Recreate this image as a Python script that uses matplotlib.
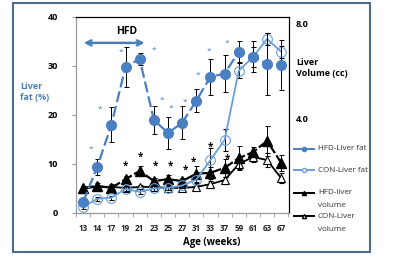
import numpy as np
import matplotlib
matplotlib.use('Agg')
import matplotlib.pyplot as plt
from matplotlib.lines import Line2D
from matplotlib.patches import Rectangle

plt.rcParams['font.family'] = ['Open Sans', 'DejaVu Sans']

# age groups (weeks)
ages = ['13', '14', '17', '19', '21', '23', '25', '27', '31', '33', '37', '59', '61', '63', '67']

# liver fat (%)
hfd_fat = [2.2, 9.4, 18.0, 29.8, 31.4, 19.0, 16.3, 18.4, 22.9, 27.8, 28.4, 32.9, 31.9, 30.4, 30.2]
hfd_fat_err = [0.5, 1.7, 3.6, 4.1, 1.3, 2.8, 3.2, 3.4, 2.4, 3.7, 3.8, 2.1, 3.1, 6.4, 5.1]
con_fat = [1.2, 2.9, 3.1, 4.9, 4.3, 5.0, 5.1, 5.6, 6.8, 10.8, 14.9, 29.0, 31.8, 35.5, 32.9]
con_fat_err = [0.4, 0.4, 0.4, 0.5, 0.5, 0.5, 0.5, 0.5, 0.6, 2.5, 2.3, 1.5, 2.0, 1.2, 1.2]

# liver volume (cc)
hfd_vol = [1.06, 1.14, 1.06, 1.43, 1.78, 1.35, 1.43, 1.35, 1.66, 1.70, 1.91, 2.32, 2.57, 3.05, 2.12]
hfd_vol_err = [0.10, 0.12, 0.17, 0.12, 0.19, 0.12, 0.17, 0.12, 0.33, 0.25, 0.37, 0.52, 0.21, 0.64, 0.33]
con_vol = [1.02, 1.12, 1.10, 1.06, 1.10, 1.10, 1.06, 1.06, 1.10, 1.22, 1.39, 2.07, 2.37, 2.24, 1.47]
con_vol_err = [0.08, 0.08, 0.08, 0.08, 0.08, 0.08, 0.08, 0.08, 0.08, 0.15, 0.15, 0.2, 0.2, 0.3, 0.2]

# significance marks (x as category index, y on fat axis)
fat_star_x = [0.56, 1.19, 2.66, 5.03, 5.59, 6.22, 7.2, 8.1, 8.9, 10.2]
fat_star_y = [13.0, 21.2, 32.7, 33.2, 22.9, 21.3, 22.6, 28.1, 32.9, 34.7]
vol_star_x = [3.0, 4.06, 5.1, 6.15, 7.2, 7.8, 9.0, 10.2]
vol_star_y = [9.6, 11.4, 9.6, 9.6, 8.8, 10.4, 13.5, 11.0]

blue = '#4a7fc1'
light = '#6a9fd8'
txt_blue = '#4a7ebb'

fig = plt.figure(figsize=(4, 2.6), dpi=100)
ax = fig.add_axes([0.19, 0.181, 0.5325, 0.754])
ax2 = ax.twinx()

x = np.arange(len(ages))

# volume on right axis
ax2.errorbar(x, con_vol, yerr=con_vol_err, color='black', lw=1.3, marker='^',
             ms=6, mfc='white', mec='black', mew=0.8, ecolor='black', elinewidth=0.7,
             capsize=1.8, capthick=0.7, zorder=3)
l = ax2.errorbar(x, hfd_vol, yerr=hfd_vol_err, color='black', lw=1.6, marker='^',
                 ms=6.5, mfc='black', mec='black', ecolor='black', elinewidth=0.7,
                 capsize=1.8, capthick=0.7, zorder=4)
l[0].set_dashes([5, 1.2])

# fat on left axis
ax.errorbar(x, con_fat, yerr=con_fat_err, color=light, lw=1.3, marker='o', ms=7,
            mfc='none', mec=light, mew=0.8, ecolor='black', elinewidth=0.7,
            capsize=1.8, capthick=0.7, zorder=3)
h = ax.errorbar(x, hfd_fat, yerr=hfd_fat_err, color=blue, lw=1.6, marker='o', ms=7,
                mfc=blue, mec=blue, ecolor='black', elinewidth=0.7,
                capsize=1.8, capthick=0.7, zorder=4)
h[0].set_dashes([5, 1.8])

ax.set_zorder(ax2.get_zorder() + 1)
ax.patch.set_visible(False)

for sx, sy in zip(fat_star_x, fat_star_y):
    ax.text(sx, sy, '*', color=blue, fontsize=6, ha='center', va='center')
for sx, sy in zip(vol_star_x, vol_star_y):
    ax.text(sx, sy, '*', color='black', fontsize=7, fontweight='bold',
            ha='center', va='center')

# HFD period arrow
ax.annotate('', xy=(-0.15, 34.7), xytext=(4.55, 34.7),
            arrowprops=dict(arrowstyle='<->', color=txt_blue, lw=1.8,
                            mutation_scale=9))
ax.text(3.1, 37.1, 'HFD', fontsize=7.5, fontweight='bold', ha='center', va='center')

ax.set_xlim(-0.45, 14.55)
ax.set_ylim(0, 40)
ax2.set_ylim(0, 8.3)

ax.set_xticks(x)
ax.set_xticklabels(ages, fontsize=5.8, fontweight='bold', color='#222222')
ax.set_xticks(np.arange(-0.5, 15, 1), minor=True)
ax.tick_params(axis='x', which='major', length=0, pad=8)
ax.tick_params(axis='x', which='minor', length=3, color='#999999', direction='out')

ax.set_yticks([0, 10, 20, 30, 40])
ax.set_yticklabels(['0', '10', '20', '30', '40'], fontsize=6.5, fontweight='bold')
ax.tick_params(axis='y', length=3, color='#999999', pad=10)

ax2.set_yticks([4, 8])
ax2.set_yticklabels(['4.0', '8.0'], fontsize=6.5, fontweight='bold')
ax2.tick_params(axis='y', length=0, pad=5)

for a in (ax, ax2):
    a.spines['left'].set_color('#999999')
    a.spines['bottom'].set_color('#999999')
    a.spines['top'].set_color('black')
    a.spines['right'].set_color('black')
    a.spines['top'].set_linewidth(0.8)
    a.spines['right'].set_linewidth(0.8)

fig.text(0.05, 0.646, 'Liver\nfat (%)', color=txt_blue, fontsize=6.5,
         fontweight='bold', ha='left', va='center', linespacing=1.3)
fig.text(0.74, 0.738, 'Liver\nVolume (cc)', color='black', fontsize=6.5,
         fontweight='bold', ha='left', va='center', linespacing=1.3)
fig.text(0.53, 0.069, 'Age (weeks)', fontsize=7, fontweight='bold',
         ha='center', va='center')

# legend drawn by hand
leg = [
    ('HFD-Liver fat', 0.427, blue, 'o', blue),
    ('CON-Liver fat', 0.346, light, 'o', 'white'),
    ('HFD-liver\nvolume', 0.258, 'black', '^', 'black'),
    ('CON-Liver\nvolume', 0.169, 'black', '^', 'white'),
]
for label, yy, col, mk, mfc in leg:
    fig.add_artist(Line2D([0.735, 0.785], [yy, yy], transform=fig.transFigure,
                          color=col, lw=1.4))
    fig.add_artist(Line2D([0.76], [yy], transform=fig.transFigure, marker=mk, ms=3,
                          mfc=mfc, mec=col, lw=0))
    lines = label.split('\n')
    for k, part in enumerate(lines):
        fig.text(0.795, yy - 0.05 * k, part, fontsize=5.8, ha='left', va='center',
                 color='#333333')

# outer frame
fig.add_artist(Rectangle((0.0325, 0.031), 0.8925, 0.958, transform=fig.transFigure,
                         fill=False, ec='#4f6b8a', lw=1.5))

fig.savefig('out.png', dpi=100)
